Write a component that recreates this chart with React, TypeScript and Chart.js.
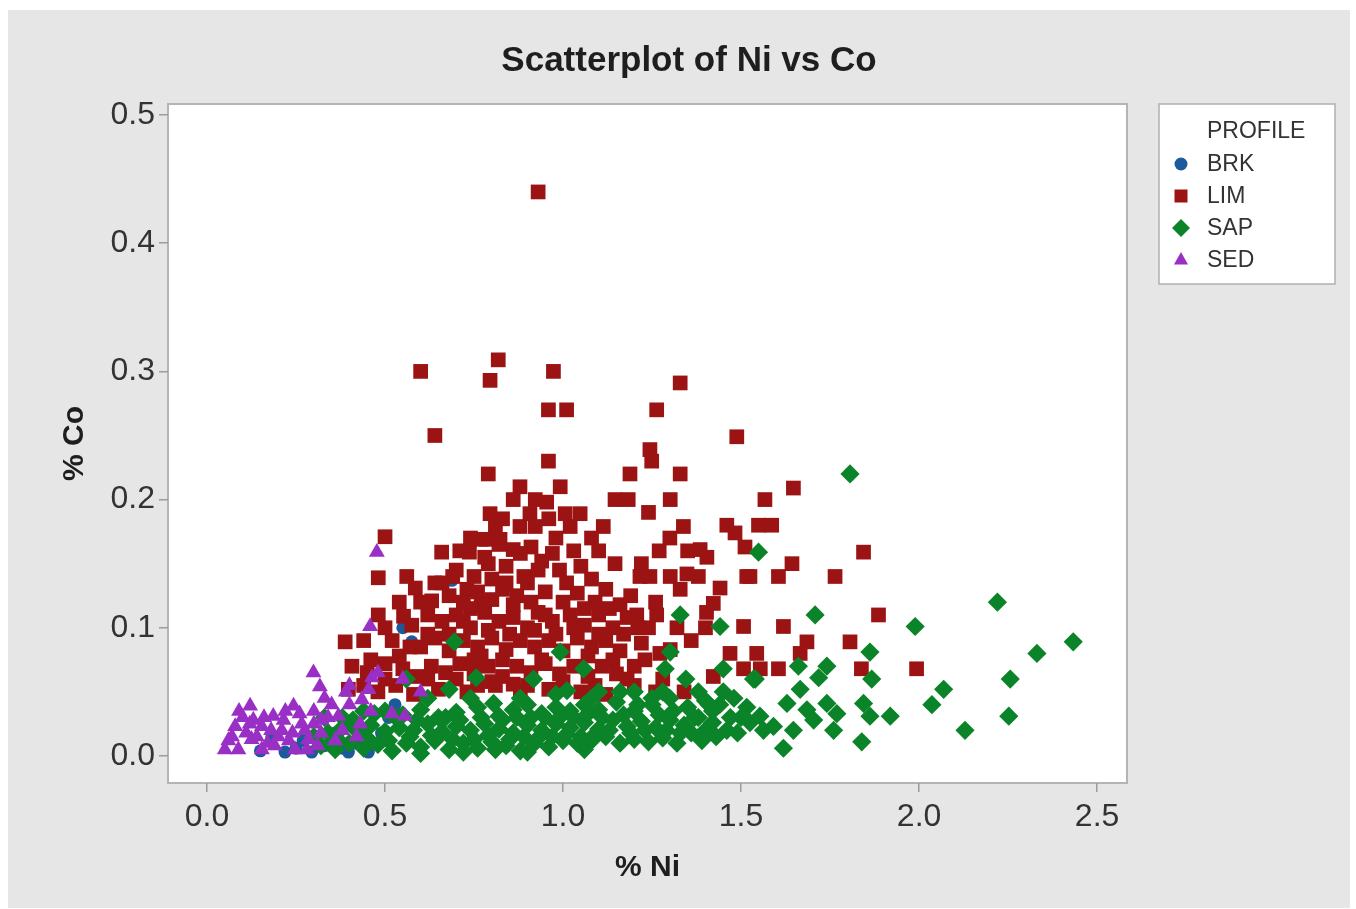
import React, { useEffect, useRef } from "react";
import { Chart, registerables } from "chart.js";

Chart.register(...registerables);

const chartTitle = "Scatterplot of Ni vs Co";
const xTitle = "% Ni";
const yTitle = "% Co";
const legendTitle = "PROFILE";
const seriesNames = ["BRK", "LIM", "SAP", "SED"];
const seriesColors = ["#1d5a9c", "#9b1313", "#0b8429", "#9a2fc6"];
const xTickValues = [0, 0.5, 1.0, 1.5, 2.0, 2.5];
const yTickValues = [0, 0.1, 0.2, 0.3, 0.4, 0.5];

const brkPoints: [number, number][] = [
  [0.575, 0.089], [0.688, 0.137], [0.528, 0.04], [0.182, 0.015], [0.219, 0.003],
  [0.294, 0.003], [0.36, 0.018], [0.397, 0.003], [0.453, 0.003], [0.49, 0.018],
  [0.25, 0.006], [0.33, 0.008], [0.42, 0.01], [0.55, 0.1], [0.51, 0.03],
  [0.27, 0.012], [0.15, 0.004], [0.38, 0.006], [0.44, 0.02], [0.31, 0.015],
];

const limPoints: [number, number][] = [
  [0.93, 0.44], [0.6, 0.3], [0.64, 0.25], [0.795, 0.293], [0.818, 0.309], [0.973, 0.3],
  [1.329, 0.291], [0.959, 0.27], [1.01, 0.27], [1.263, 0.27], [1.488, 0.249], [0.959, 0.23],
  [0.79, 0.22], [1.188, 0.22], [1.244, 0.239], [1.249, 0.23], [1.329, 0.22], [0.879, 0.21],
  [0.992, 0.21], [1.146, 0.2], [1.183, 0.2], [1.301, 0.2], [1.647, 0.209], [1.567, 0.2],
  [0.922, 0.2], [0.954, 0.198], [0.907, 0.189], [1.006, 0.189], [1.048, 0.189], [0.879, 0.179],
  [0.922, 0.179], [1.02, 0.179], [0.795, 0.189], [0.81, 0.179], [0.785, 0.169], [0.823, 0.169],
  [1.113, 0.179], [1.338, 0.179], [1.46, 0.18], [1.483, 0.174], [1.549, 0.18], [1.586, 0.18],
  [1.511, 0.163], [1.844, 0.159], [1.643, 0.15], [1.525, 0.14], [1.605, 0.14], [1.764, 0.14],
  [1.886, 0.11], [1.507, 0.101], [1.619, 0.101], [1.685, 0.089], [1.806, 0.089], [1.544, 0.08],
  [1.666, 0.08], [1.507, 0.068], [1.554, 0.068], [1.605, 0.068], [1.838, 0.068], [1.993, 0.068],
  [1.385, 0.161], [1.404, 0.155], [1.146, 0.15], [1.216, 0.14], [1.244, 0.14], [1.301, 0.14],
  [1.348, 0.142], [1.329, 0.13], [1.441, 0.131], [1.422, 0.119], [1.516, 0.14], [1.207, 0.11],
  [1.263, 0.11], [1.403, 0.112], [1.272, 0.08], [1.301, 0.083], [1.469, 0.08], [1.422, 0.062],
  [0.5, 0.171], [0.659, 0.159], [0.737, 0.159], [0.481, 0.139], [0.561, 0.14], [0.585, 0.131],
  [0.64, 0.135], [0.631, 0.121], [0.481, 0.11], [0.552, 0.109], [0.575, 0.102], [0.388, 0.089],
  [0.407, 0.07], [0.397, 0.052],
  [0.77, 0.169], [0.82, 0.165], [0.86, 0.161], [0.91, 0.163], [0.97, 0.158], [1.03, 0.16],
  [0.7, 0.145], [0.75, 0.14], [0.79, 0.15], [0.84, 0.148], [0.89, 0.14], [0.94, 0.152],
  [0.99, 0.145], [1.05, 0.148], [1.08, 0.138], [0.73, 0.13],
  [0.68, 0.125], [0.72, 0.12], [0.76, 0.128], [0.8, 0.122], [0.83, 0.13], [0.87, 0.125],
  [0.91, 0.12], [0.95, 0.128], [1.0, 0.12], [1.04, 0.127], [1.09, 0.12], [1.12, 0.13], [1.16, 0.118],
  [0.62, 0.11], [0.66, 0.105], [0.7, 0.11], [0.74, 0.1], [0.78, 0.112], [0.82, 0.105],
  [0.86, 0.108], [0.9, 0.1], [0.93, 0.112], [0.97, 0.105], [1.02, 0.11], [1.06, 0.102],
  [1.1, 0.11], [1.14, 0.1], [1.18, 0.108],
  [0.52, 0.09], [0.6, 0.085], [0.64, 0.092], [0.68, 0.082], [0.72, 0.09], [0.76, 0.085],
  [0.8, 0.092], [0.84, 0.083], [0.88, 0.09], [0.92, 0.085], [0.96, 0.09], [1.0, 0.082],
  [1.04, 0.092], [1.08, 0.085], [1.12, 0.09], [1.16, 0.082], [1.22, 0.088],
  [0.45, 0.065], [0.5, 0.072], [0.55, 0.068], [0.59, 0.062], [0.63, 0.07], [0.67, 0.065],
  [0.71, 0.072], [0.75, 0.064], [0.79, 0.07], [0.83, 0.062], [0.87, 0.07], [0.91, 0.065],
  [0.95, 0.072], [0.99, 0.064], [1.03, 0.07], [1.07, 0.062], [1.11, 0.07], [1.15, 0.064], [1.2, 0.07],
  [0.48, 0.05], [0.53, 0.055], [0.58, 0.048], [0.65, 0.052], [0.73, 0.05], [0.81, 0.055],
  [0.88, 0.05], [0.96, 0.052], [1.05, 0.05], [1.12, 0.048], [1.2, 0.055],
  [1.24, 0.19], [1.27, 0.16], [1.22, 0.15], [1.3, 0.17], [1.35, 0.16], [1.38, 0.14],
  [1.26, 0.12], [1.32, 0.1], [1.24, 0.1], [1.36, 0.09], [1.4, 0.1], [1.28, 0.06], [1.34, 0.05], [1.26, 0.05],
  [0.78, 0.155], [0.8, 0.138], [0.77, 0.118], [0.79, 0.098], [0.77, 0.078], [0.8, 0.058],
  [0.84, 0.135], [0.86, 0.118], [0.85, 0.095], [0.83, 0.075], [0.86, 0.056], [0.74, 0.115],
  [0.72, 0.105], [0.75, 0.075], [0.7, 0.06], [0.68, 0.095], [0.66, 0.135], [0.6, 0.12],
  [0.57, 0.085], [0.54, 0.078], [0.62, 0.095], [0.69, 0.14], [0.88, 0.158], [0.9, 0.135],
  [0.93, 0.145], [0.95, 0.11], [0.92, 0.098], [0.94, 0.075], [0.98, 0.095], [1.01, 0.135],
  [1.03, 0.1], [1.06, 0.115], [1.07, 0.078], [1.1, 0.095], [1.13, 0.115], [1.14, 0.075],
  [1.17, 0.095], [1.19, 0.125], [1.21, 0.1], [1.23, 0.075], [1.18, 0.06], [1.09, 0.055],
  [1.0, 0.058], [0.9, 0.055], [0.76, 0.055], [0.62, 0.06], [0.5, 0.06], [0.46, 0.075],
  [0.44, 0.09], [0.5, 0.1], [0.54, 0.12], [0.44, 0.055], [0.83, 0.185], [0.86, 0.2],
  [0.96, 0.185], [1.1, 0.16], [1.08, 0.17], [0.98, 0.17], [0.74, 0.17], [0.71, 0.16],
];

const sapPoints: [number, number][] = [
  [1.806, 0.22], [1.549, 0.159], [1.708, 0.11], [1.989, 0.101], [2.22, 0.12], [1.862, 0.081],
  [1.661, 0.07], [1.741, 0.07], [1.718, 0.061], [1.867, 0.06], [1.54, 0.06], [2.256, 0.06],
  [2.069, 0.052], [2.036, 0.04], [2.252, 0.031], [1.919, 0.031], [1.844, 0.041], [1.862, 0.031],
  [2.129, 0.02], [1.839, 0.011], [1.619, 0.006], [2.433, 0.089], [2.331, 0.08],
  [1.516, 0.038], [1.553, 0.031], [1.591, 0.023], [1.629, 0.041], [1.666, 0.052], [1.685, 0.036],
  [1.704, 0.028], [1.741, 0.041], [1.769, 0.033], [1.76, 0.02], [1.647, 0.02], [1.563, 0.02], [1.525, 0.026],
  [1.329, 0.11], [1.441, 0.101], [0.992, 0.081], [1.058, 0.068], [0.917, 0.06], [1.011, 0.051],
  [1.301, 0.081], [1.287, 0.068], [1.345, 0.06], [1.45, 0.068], [1.535, 0.06], [0.805, 0.041],
  [0.695, 0.089], [0.756, 0.061], [0.68, 0.052], [0.56, 0.06],
  [1.1, 0.05], [1.2, 0.05], [1.25, 0.045], [1.38, 0.05], [1.48, 0.045], [1.5, 0.03], [1.46, 0.02],
  [1.42, 0.035], [1.47, 0.03], [1.49, 0.018], [1.45, 0.05],
  [0.32, 0.008], [0.36, 0.005], [0.4, 0.01], [0.44, 0.006], [0.48, 0.009], [0.52, 0.004],
  [0.56, 0.01], [0.6, 0.007], [0.64, 0.012], [0.68, 0.005], [0.72, 0.01], [0.76, 0.006],
  [0.8, 0.011], [0.84, 0.008], [0.88, 0.004], [0.92, 0.01], [0.96, 0.007], [1.0, 0.012],
  [1.04, 0.01], [1.08, 0.012], [1.12, 0.015], [1.16, 0.01], [1.2, 0.013], [1.24, 0.011],
  [1.28, 0.014], [1.32, 0.01], [1.36, 0.018], [1.4, 0.02],
  [0.34, 0.018], [0.38, 0.022], [0.42, 0.02], [0.46, 0.024], [0.5, 0.019], [0.54, 0.022],
  [0.58, 0.02], [0.62, 0.025], [0.66, 0.019], [0.7, 0.023], [0.74, 0.02], [0.78, 0.025],
  [0.82, 0.021], [0.86, 0.018], [0.9, 0.024], [0.94, 0.02], [0.98, 0.025], [1.02, 0.022],
  [1.06, 0.026], [1.1, 0.021], [1.14, 0.028], [1.18, 0.023], [1.22, 0.027], [1.26, 0.022],
  [1.3, 0.028], [1.34, 0.024], [1.38, 0.03], [1.42, 0.026],
  [0.55, 0.032], [0.6, 0.036], [0.65, 0.03], [0.7, 0.034], [0.76, 0.038], [0.82, 0.031],
  [0.86, 0.036], [0.9, 0.04], [0.94, 0.033], [0.98, 0.038], [1.02, 0.035], [1.06, 0.04],
  [1.1, 0.036], [1.15, 0.042], [1.2, 0.035], [1.25, 0.04], [1.3, 0.045], [1.35, 0.038],
  [1.4, 0.043], [1.44, 0.04],
  [0.3, 0.015], [0.33, 0.03], [0.37, 0.012], [0.41, 0.028], [0.45, 0.014], [0.47, 0.033],
  [0.51, 0.012], [0.53, 0.03], [0.57, 0.015], [0.59, 0.028], [0.63, 0.016], [0.67, 0.03],
  [0.69, 0.013], [0.71, 0.028], [0.75, 0.013], [0.77, 0.03], [0.79, 0.016], [0.81, 0.005],
  [0.83, 0.028], [0.85, 0.013], [0.87, 0.03], [0.89, 0.015], [0.91, 0.03], [0.93, 0.014],
  [0.95, 0.03], [0.97, 0.015], [0.99, 0.03], [1.01, 0.017], [1.03, 0.03], [1.05, 0.015],
  [1.07, 0.033], [1.09, 0.017], [1.11, 0.03], [1.13, 0.02], [1.17, 0.032], [1.19, 0.018],
  [1.21, 0.04], [1.23, 0.02], [1.27, 0.032], [1.29, 0.02], [1.31, 0.035], [1.33, 0.018],
  [1.37, 0.03], [1.39, 0.012], [1.41, 0.04], [1.43, 0.015], [0.74, 0.045], [0.88, 0.045],
  [0.98, 0.048], [1.08, 0.045], [1.16, 0.05], [1.28, 0.05], [0.62, 0.045], [0.5, 0.035],
  [0.44, 0.035], [0.38, 0.03], [0.72, 0.003], [0.9, 0.003], [1.06, 0.005], [0.6, 0.002],
];

const sedPoints: [number, number][] = [
  [0.477, 0.159], [0.458, 0.101], [0.299, 0.065], [0.317, 0.054], [0.463, 0.061], [0.454, 0.052],
  [0.435, 0.044], [0.121, 0.039], [0.243, 0.039], [0.186, 0.031], [0.215, 0.028], [0.266, 0.025],
  [0.322, 0.028], [0.369, 0.031], [0.519, 0.033], [0.556, 0.031], [0.05, 0.005], [0.088, 0.005],
  [0.125, 0.013], [0.154, 0.005], [0.2, 0.015], [0.247, 0.005], [0.285, 0.013], [0.079, 0.023],
  [0.154, 0.023], [0.21, 0.02], [0.275, 0.02], [0.1, 0.03], [0.13, 0.028], [0.35, 0.04],
  [0.4, 0.04], [0.33, 0.045], [0.38, 0.02], [0.42, 0.015], [0.06, 0.012], [0.11, 0.018],
  [0.17, 0.01], [0.23, 0.012], [0.31, 0.008], [0.34, 0.03], [0.4, 0.055], [0.55, 0.06], [0.6, 0.05],
  [0.07, 0.015], [0.09, 0.035], [0.12, 0.025], [0.14, 0.015], [0.16, 0.03], [0.18, 0.02],
  [0.19, 0.008], [0.22, 0.035], [0.24, 0.018], [0.26, 0.033], [0.28, 0.005], [0.3, 0.035],
  [0.32, 0.018], [0.36, 0.012], [0.39, 0.05], [0.43, 0.025], [0.46, 0.035], [0.48, 0.065], [0.3, 0.025],
];

const allSeries = [brkPoints, limPoints, sapPoints, sedPoints];
const pointStyles = ["circle", "rect", "rectRot", "triangle"];
const pointRadii = [6.5, 10.4, 9.6, 9.2];
const drawOrder = [4, 3, 2, 1];

const FONT = "'Liberation Sans', Arial, sans-serif";

export default function App() {
  const canvasRef = useRef<HTMLCanvasElement | null>(null);

  useEffect(() => {
    const canvas = canvasRef.current;
    if (!canvas) return;

    const framePlugin = {
      id: "frame",
      beforeDraw(chart: any) {
        const { ctx, chartArea } = chart;
        ctx.save();
        ctx.fillStyle = "#ffffff";
        ctx.fillRect(0, 0, chart.width, chart.height);
        ctx.fillStyle = "#e6e6e6";
        ctx.fillRect(8, 10, 1342, 898);
        ctx.fillStyle = "#ffffff";
        ctx.fillRect(chartArea.left, chartArea.top, chartArea.right - chartArea.left, chartArea.bottom - chartArea.top);
        ctx.strokeStyle = "#b4b4b4";
        ctx.lineWidth = 2;
        ctx.strokeRect(chartArea.left, chartArea.top, chartArea.right - chartArea.left, chartArea.bottom - chartArea.top);
        ctx.restore();
      },
      afterDraw(chart: any) {
        const { ctx } = chart;
        ctx.save();
        ctx.fillStyle = "#1e1e1e";
        ctx.font = `bold 35px ${FONT}`;
        ctx.textAlign = "center";
        ctx.textBaseline = "middle";
        ctx.fillText(chartTitle, 689, 61);
        const lx = 1159, ly = 104, lw = 176, lh = 180;
        ctx.fillStyle = "#ffffff";
        ctx.fillRect(lx, ly, lw, lh);
        ctx.strokeStyle = "#b0b0b0";
        ctx.lineWidth = 1.5;
        ctx.strokeRect(lx, ly, lw, lh);
        ctx.fillStyle = "#333333";
        ctx.font = `23px ${FONT}`;
        ctx.textAlign = "left";
        ctx.fillText(legendTitle, 1207, 132);
        const rowY = [164, 196, 228, 260];
        seriesNames.forEach((name, i) => {
          const y = rowY[i];
          const x = 1181;
          ctx.fillStyle = seriesColors[i];
          ctx.beginPath();
          if (i === 0) {
            ctx.arc(x, y, 6.5, 0, Math.PI * 2);
          } else if (i === 1) {
            ctx.rect(x - 6.5, y - 6.5, 13, 13);
          } else if (i === 2) {
            ctx.moveTo(x - 9, y);
            ctx.lineTo(x, y - 9);
            ctx.lineTo(x + 9, y);
            ctx.lineTo(x, y + 9);
          } else {
            ctx.moveTo(x, y - 8);
            ctx.lineTo(x + 7, y + 4.5);
            ctx.lineTo(x - 7, y + 4.5);
          }
          ctx.closePath();
          ctx.fill();
          ctx.fillStyle = "#333333";
          ctx.fillText(name, 1207, y + 1);
        });
        ctx.restore();
      },
    };

    const chart = new Chart(canvas, {
      type: "scatter",
      data: {
        datasets: allSeries.map((pts, i) => ({
          label: seriesNames[i],
          data: pts.map(([x, y]) => ({ x, y })),
          backgroundColor: seriesColors[i],
          borderColor: seriesColors[i],
          borderWidth: 0,
          pointStyle: pointStyles[i] as any,
          pointRadius: pointRadii[i],
          pointHoverRadius: pointRadii[i],
          order: drawOrder[i],
        })),
      },
      options: {
        animation: false,
        responsive: false,
        devicePixelRatio: 1,
        layout: { padding: { left: 0, top: 104, right: 229, bottom: 0 } },
        plugins: {
          legend: { display: false },
          title: { display: false },
          tooltip: { enabled: false },
        },
        scales: {
          x: {
            type: "linear",
            position: "bottom",
            min: -0.1096,
            max: 2.584,
            afterBuildTicks: (s: any) => {
              s.ticks = xTickValues.map((v) => ({ value: v }));
            },
            afterFit: (s: any) => {
              s.height = 126;
            },
            grid: { display: true, drawOnChartArea: false, drawTicks: true, tickLength: 9, color: "#9c9c9c", lineWidth: 1.5 },
            border: { display: false },
            ticks: {
              padding: 6,
              color: "#333333",
              font: { family: FONT, size: 32 },
              callback: (v: any) => Number(v).toFixed(1),
              maxRotation: 0,
              autoSkip: false,
            },
            title: {
              display: true,
              text: xTitle,
              color: "#1e1e1e",
              font: { family: FONT, size: 30, weight: "bold" },
              padding: { top: 0, bottom: 23 },
            },
          },
          y: {
            type: "linear",
            position: "left",
            min: -0.0211,
            max: 0.5086,
            afterBuildTicks: (s: any) => {
              s.ticks = yTickValues.map((v) => ({ value: v }));
            },
            afterFit: (s: any) => {
              s.width = 168;
            },
            grid: { display: true, drawOnChartArea: false, drawTicks: true, tickLength: 9, color: "#9c9c9c", lineWidth: 1.5 },
            border: { display: false },
            ticks: {
              padding: 4,
              color: "#333333",
              font: { family: FONT, size: 32 },
              callback: (v: any) => Number(v).toFixed(1),
              autoSkip: false,
            },
            title: {
              display: true,
              text: yTitle,
              color: "#1e1e1e",
              font: { family: FONT, size: 30, weight: "bold" },
              padding: { top: 57, bottom: 0 },
            },
          },
        },
      },
      plugins: [framePlugin],
    });

    return () => {
      chart.destroy();
    };
  }, []);

  return (
    <div style={{ position: "absolute", left: 0, top: 0, width: 1356, height: 909 }}>
      <canvas ref={canvasRef} width={1356} height={909} style={{ display: "block" }} />
    </div>
  );
}
